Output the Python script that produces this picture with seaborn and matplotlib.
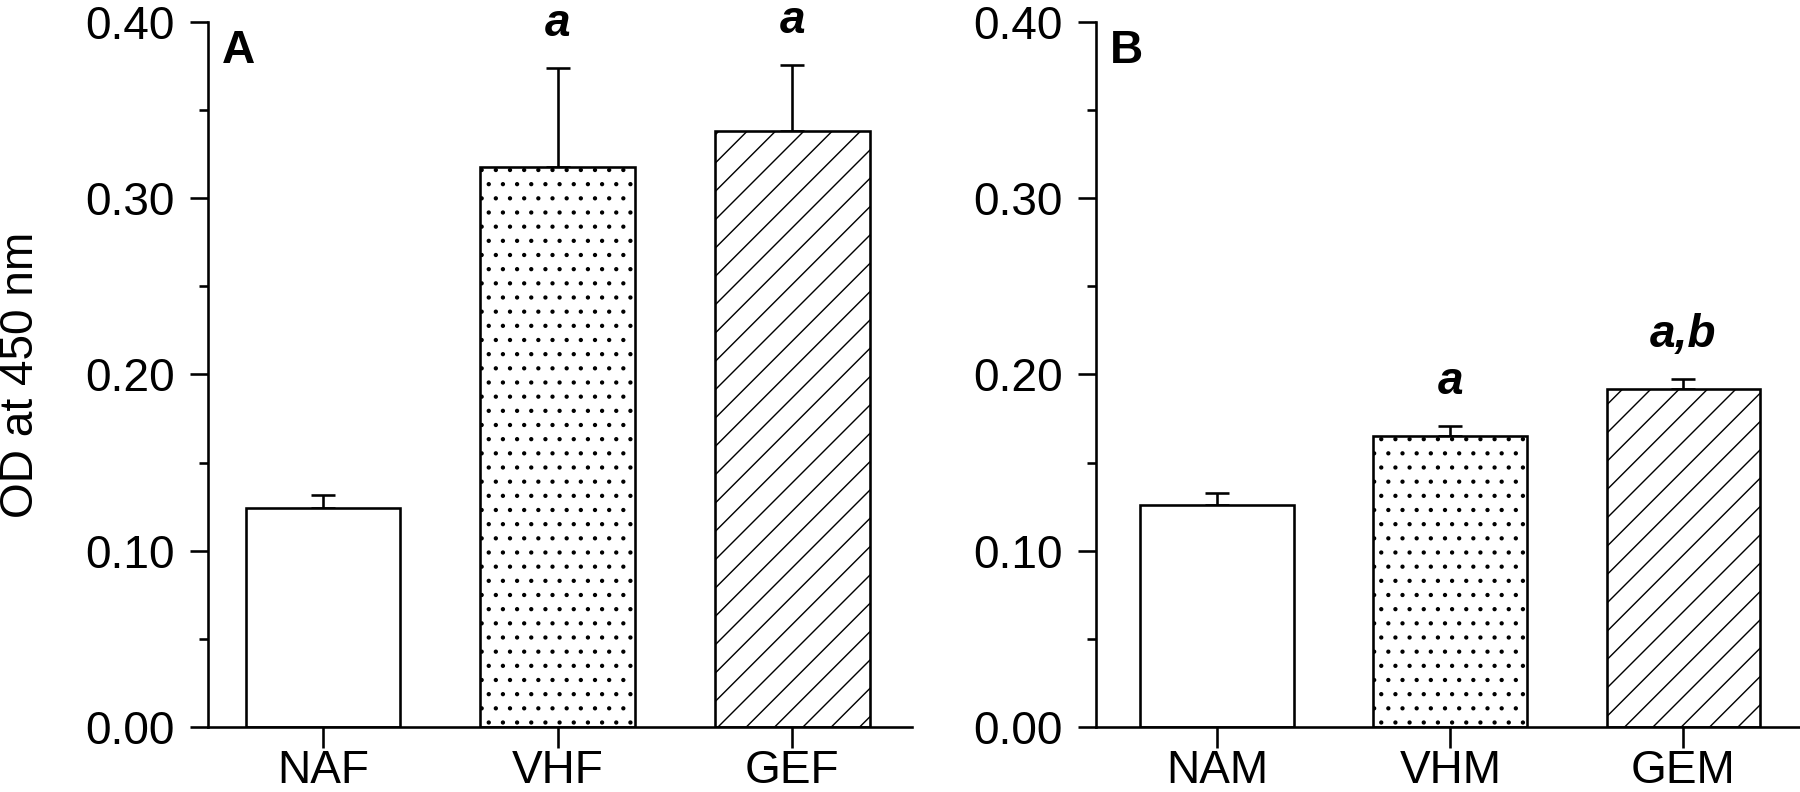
import numpy as np
import pandas as pd
import matplotlib
matplotlib.use("Agg")
import matplotlib.pyplot as plt
import seaborn as sns
from matplotlib.ticker import MultipleLocator, FormatStrFormatter

# ---- data ----
groups_a = ["NAF", "VHF", "GEF"]
means_a = [0.124, 0.318, 0.338]
err_a = [0.0077, 0.0557, 0.0376]
sig_a = ["", "a", "a"]

groups_b = ["NAM", "VHM", "GEM"]
means_b = [0.126, 0.165, 0.192]
err_b = [0.0066, 0.0055, 0.0056]
sig_b = ["", "a", "a,b"]

panel_letters = ["A", "B"]
ylabel = "OD at 450 nm"
hatches = ["", "..", "//"]

# ---- style ----
DPI = 170
sns.set_style("ticks")
plt.rcParams["font.family"] = ["Liberation Sans", "DejaVu Sans"]
plt.rcParams["hatch.linewidth"] = 0.6
for key in ["text.color", "axes.labelcolor", "xtick.color", "ytick.color",
            "axes.edgecolor"]:
    plt.rcParams[key] = "black"
LW = 1.1
FS = 19.5

fig = plt.figure(figsize=(1800 / DPI, 792 / DPI), dpi=DPI)
ax_a = fig.add_axes([208 / 1800, 65 / 792, 704 / 1800, 705 / 792])
ax_b = fig.add_axes([1096 / 1800, 65 / 792, 704 / 1800, 705 / 792])

panels = [
    (ax_a, groups_a, means_a, err_a, sig_a, panel_letters[0], (-0.49, 2.51)),
    (ax_b, groups_b, means_b, err_b, sig_b, panel_letters[1], (-0.52, 2.50)),
]

for ax, groups, means, errs, sigs, letter, xlim in panels:
    df = pd.DataFrame({"group": groups, "od": means})
    sns.barplot(data=df, x="group", y="od", ax=ax, color="white",
                edgecolor="black", linewidth=LW, width=0.66,
                errorbar=None, saturation=1)
    for patch, h in zip(ax.patches, hatches):
        patch.set_facecolor("white")
        patch.set_edgecolor("black")
        patch.set_hatch(h)
    xs = np.arange(len(groups))
    ax.errorbar(xs, means, yerr=[np.zeros(len(errs)), errs], fmt="none",
                ecolor="black", elinewidth=LW, capsize=5, capthick=LW,
                zorder=0.5)
    for x, m, e, s in zip(xs, means, errs, sigs):
        if s:
            ax.text(x, m + e + 0.025, s, ha="center", va="center",
                    fontsize=FS, fontweight="bold", fontstyle="italic",
                    clip_on=False)
    ax.set_ylim(0, 0.40)
    ax.set_xlim(*xlim)
    ax.yaxis.set_major_locator(MultipleLocator(0.10))
    ax.yaxis.set_minor_locator(MultipleLocator(0.05))
    ax.yaxis.set_major_formatter(FormatStrFormatter("%.2f"))
    ax.tick_params(axis="y", which="major", direction="out", length=7.6,
                   width=LW, labelsize=FS, pad=6.5)
    ax.tick_params(axis="x", which="major", direction="out", length=8.9,
                   width=LW, labelsize=FS, pad=0.5)
    ax.tick_params(axis="y", which="minor", direction="out", length=4,
                   width=LW)
    for side in ["top", "right"]:
        ax.spines[side].set_visible(False)
    for side in ["left", "bottom"]:
        ax.spines[side].set_linewidth(LW)
    ax.set_xlabel("")
    ax.set_ylabel("")
    ax.text(0.02, 0.99, letter, transform=ax.transAxes, ha="left", va="top",
            fontsize=FS, fontweight="bold")

ax_a.set_ylabel(ylabel, fontsize=FS)
ax_a.yaxis.set_label_coords(-0.234, 0.5)

fig.savefig("out.png", dpi=DPI)
